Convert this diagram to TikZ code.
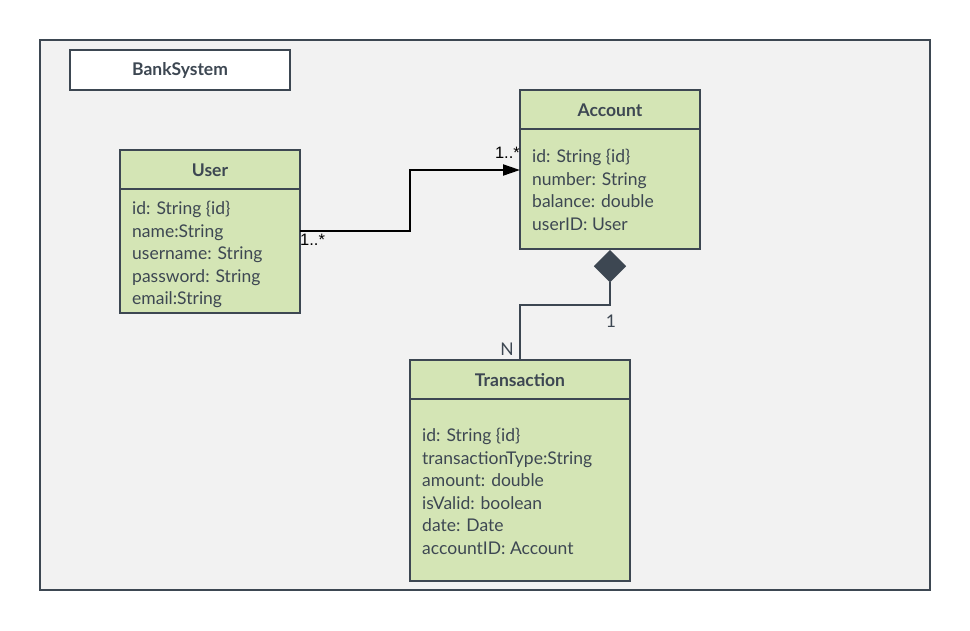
\documentclass[tikz,border=0pt]{standalone}
\usepackage{fontspec}
\setmainfont{Lato}
\newfontfamily\multfont{Liberation Sans}
\usetikzlibrary{arrows.meta,shapes.geometric}
\definecolor{ink}{HTML}{3D4752}
\definecolor{boxgreen}{HTML}{D4E5B5}
\definecolor{bggray}{HTML}{F2F2F2}
\tikzset{
  every node/.style={font=\fontsize{17.5}{20}\selectfont, text=ink},
  cls/.style={draw=ink, line width=2pt, fill=boxgreen, rectangle, inner sep=0pt},
  hdr/.style={font=\fontsize{17.5}{20}\selectfont\bfseries, anchor=center, inner sep=0pt},
  attr/.style={anchor=base west, inner sep=0pt},
  mult/.style={text=black, inner sep=0pt, font=\multfont\fontsize{16.5}{18}\selectfont},
  multg/.style={text=ink, inner sep=0pt},
}
\begin{document}
\begin{tikzpicture}[x=1pt,y=-1pt]
\useasboundingbox (0,0) rectangle (970,630);
% outer frame
\draw[draw=ink, line width=1.5pt, fill=bggray] (40,40) rectangle (930,590);
% title
\node[draw=ink, line width=2pt, fill=white, minimum width=220pt, minimum height=40pt, inner sep=0pt,
      font=\fontsize{17.5}{20}\selectfont\bfseries] (title) at (180,70) {BankSystem};
% User
\node[cls, minimum width=180pt, minimum height=163pt] (user) at (210,231.5) {};
\draw[ink, line width=2pt] (120,189) -- (300,189);
\node[hdr] (userh) at (210,170) {User};
\foreach \t [count=\i] in {id: String \{id\}, name:String, username: String, password: String, email:String}
  \node[attr] (u\i) at (132,{214.5+22.5*(\i-1)}) {\t};
% Account
\node[cls, minimum width=180pt, minimum height=159pt] (account) at (610,169.5) {};
\draw[ink, line width=2pt] (520,129) -- (700,129);
\node[hdr] (accounth) at (610,110) {Account};
\foreach \t [count=\i] in {id: String \{id\}, number: String, balance: double, userID: User}
  \node[attr] (a\i) at (532,{162.5+22.5*(\i-1)}) {\t};
% Transaction
\node[cls, minimum width=220pt, minimum height=221pt] (trans) at (520,470.5) {};
\draw[ink, line width=2pt] (410,399) -- (630,399);
\node[hdr] (transh) at (520,380) {Transaction};
\foreach \t [count=\i] in {id: String \{id\}, transactionType:String, amount: double, isValid: boolean, date: Date, accountID: Account}
  \node[attr] (t\i) at (422,{441.5+22.5*(\i-1)}) {\t};
% association User -> Account
\coordinate (ustart) at (300,231);
\coordinate (aend) at (520,170);
\draw[black, line width=2pt, -{Triangle[length=17pt,width=11pt]}] (ustart) -- (410,231) |- (aend);
\node[mult, anchor=north west] (m1) at (300,234) {1..*};
\node[mult, anchor=south east] (m2) at (520,159) {1..*};
% composition
\node[draw=ink, fill=ink, diamond, inner sep=0pt, minimum width=32pt, minimum height=32pt, anchor=north, shape aspect=1] (dia) at (610,250) {};
\coordinate (tn) at (520,360);
\draw[ink, line width=2pt] (dia.south) -- (610,305) -| (tn);
\node[multg] (m3) at (611,321) {1};
\node[multg] (m4) at (507,349) {N};
\end{tikzpicture}
\end{document}
